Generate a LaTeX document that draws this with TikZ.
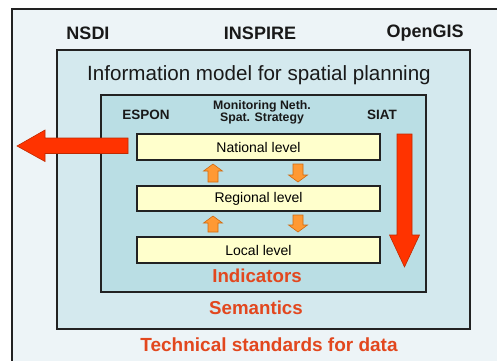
\documentclass[tikz,border=0pt]{standalone}
\usepackage{fontspec}
\setmainfont{Liberation Sans}
\definecolor{outerbg}{HTML}{EDF4F7}
\definecolor{midbg}{HTML}{D4E9EE}
\definecolor{innerbg}{HTML}{BADEE4}
\definecolor{levelbg}{HTML}{FFFFCC}
\definecolor{orangefill}{HTML}{FF9933}
\definecolor{orangeedge}{HTML}{D06A10}
\definecolor{redfill}{HTML}{FF3300}
\definecolor{rededge}{HTML}{C02A00}
\definecolor{redtext}{HTML}{E2471E}
\definecolor{darkline}{HTML}{222222}
\begin{document}
\begin{tikzpicture}[x=1pt,y=-1pt,
  panel/.style={draw=darkline,line width=1.6pt,anchor=north west,inner sep=0pt,outer sep=0pt},
  levelbox/.style={panel,fill=levelbg,minimum width=243pt,minimum height=26pt},
  leveltext/.style={font=\fontsize{14}{16}\selectfont},
  headtext/.style={font=\bfseries\fontsize{18}{20}\selectfont,text=black!90},
  labeltext/.style={font=\bfseries\fontsize{13.5}{15}\selectfont,text=black!90},
  redlabel/.style={font=\bfseries\fontsize{18.7}{20}\selectfont,text=redtext},
  bigarrow/.style={fill=redfill,draw=rededge,line width=0.6pt,line join=miter},
  smallarrow/.style={fill=orangefill,draw=orangeedge,line width=0.6pt}]
\useasboundingbox[fill=white] (0,0) rectangle (497,360);
% boxes
\node[panel,fill=outerbg,minimum width=510pt,minimum height=370pt] (outer) at (12,9) {};
\node[panel,fill=midbg,minimum width=413pt,minimum height=279pt] (mid) at (57,50) {};
\node[panel,fill=innerbg,minimum width=325pt,minimum height=197pt] (inner) at (101,95) {};
\node[levelbox] (nat) at (137,134) {};
\node[levelbox,minimum height=25pt] (reg) at (137,186) {};
\node[levelbox] (loc) at (137,237) {};
\node[leveltext] (natt) at (nat.center) {National level};
\node[leveltext] (regt) at (reg.center) {Regional level};
\node[leveltext] (loct) at (loc.center) {Local level};
% texts
\node[headtext] (nsdi) at (88,33) {NSDI};
\node[headtext] (inspire) at (260,33) {INSPIRE};
\node[headtext] (opengis) at (425,33) {OpenGIS};
\node[font=\fontsize{20.6}{22}\selectfont,text=black!90] (title) at (259,75) {Information model for spatial planning};
\node[labeltext] (espon) at (146,115) {ESPON};
\node[font=\bfseries\fontsize{12.3}{14}\selectfont,text=black!90,align=center] (mon) at (262,112) {Monitoring Neth.\\[-2pt]Spat. Strategy};
\node[labeltext] (siat) at (382,115) {SIAT};
\node[redlabel] (ind) at (257,276) {Indicators};
\node[redlabel] (sem) at (256,308) {Semantics};
\node[font=\bfseries\fontsize{19}{21}\selectfont,text=redtext] (tech) at (269,345) {Technical standards for data};
% big arrows
\draw[bigarrow] (128,138) -- (45,138) -- (45,130) -- (17,146) -- (45,161.5) -- (45,153.5) -- (128,153.5) -- cycle;
\draw[bigarrow] (397,134) -- (412,134) -- (412,235) -- (419.5,235) -- (404.5,267) -- (389.5,235) -- (397,235) -- cycle;
% small arrows up
\foreach \yb/\yt in {182/164, 232/216}{
  \draw[smallarrow] (208,\yb) -- (208,\yt+7) -- (203.5,\yt+7) -- (213,\yt) -- (222.5,\yt+7) -- (218,\yt+7) -- (218,\yb) -- cycle;
}
% small arrows down
\foreach \yt/\yb in {164/182, 215/232}{
  \draw[smallarrow] (293,\yt) -- (303,\yt) -- (303,\yb-7) -- (307.5,\yb-7) -- (298,\yb) -- (288.5,\yb-7) -- (293,\yb-7) -- cycle;
}
\end{tikzpicture}
\end{document}
